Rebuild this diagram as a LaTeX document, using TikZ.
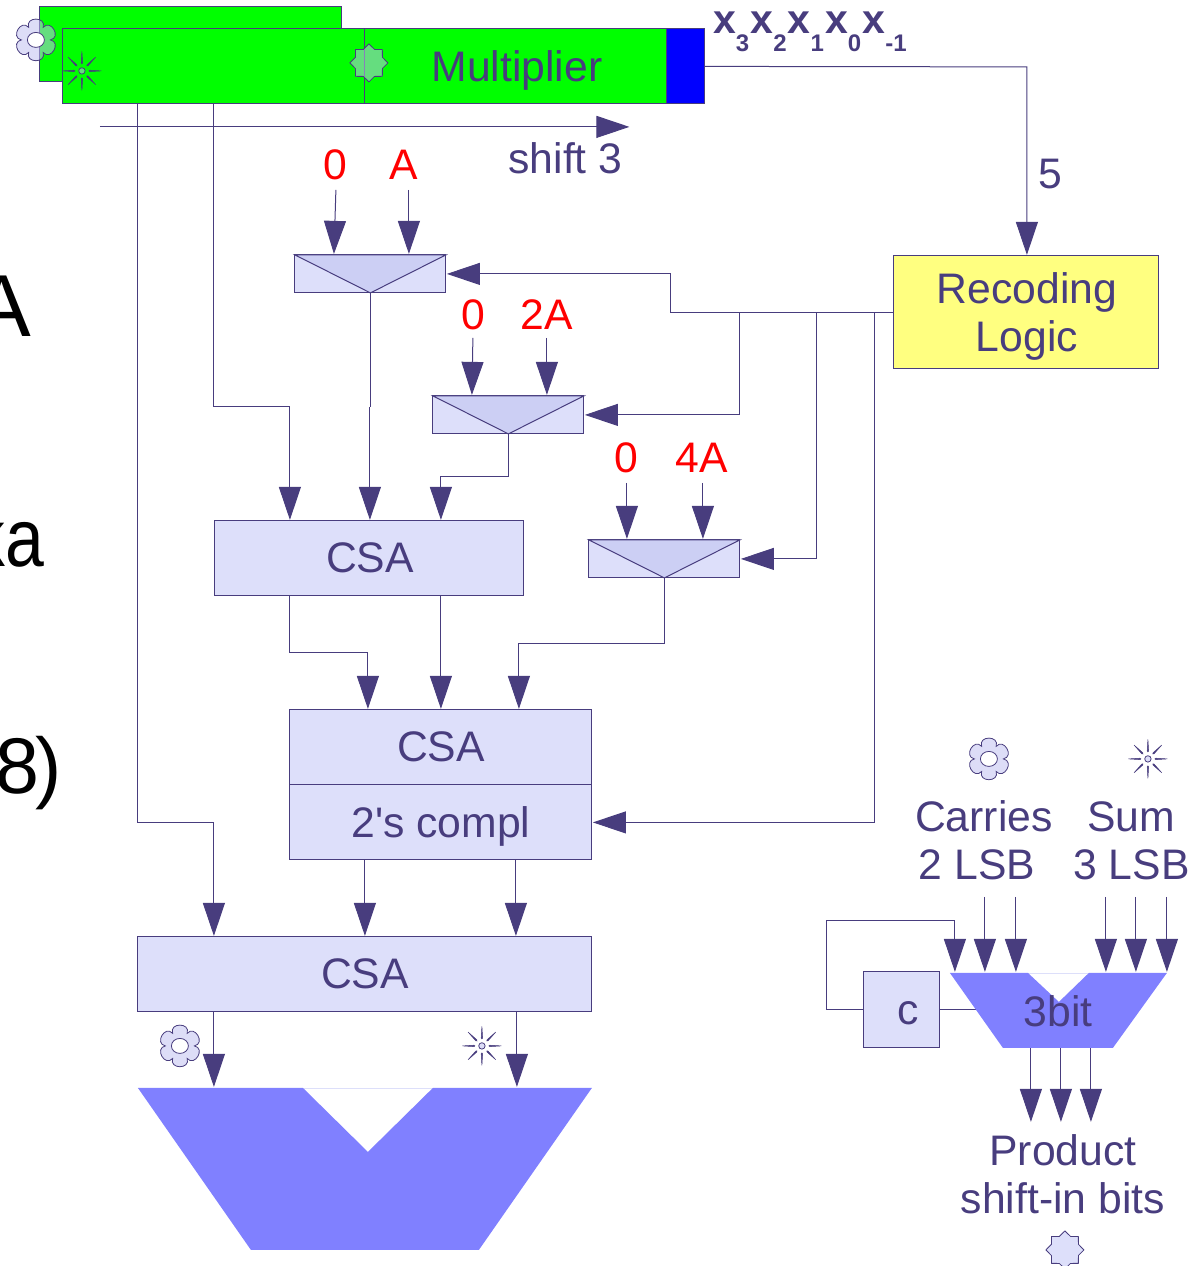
\documentclass[tikz,border=0pt]{standalone}
\usepackage{fontspec}
\setmainfont{Liberation Sans}
\newfontfamily\plainf{Liberation Sans}
\usetikzlibrary{arrows.meta,shapes.geometric}
\definecolor{ink}{HTML}{483D7E}
\definecolor{pale}{HTML}{DDDFFA}
\definecolor{palein}{HTML}{CCCFF4}
\definecolor{vfill}{HTML}{8080FF}
\definecolor{yel}{HTML}{FFFF80}
\definecolor{iconfill}{RGB}{191,191,240}
\newcommand{\bigsize}{\fontsize{42.7}{48}\selectfont}
\newcommand{\subx}[1]{\raisebox{-18pt}{\fontsize{24}{24}\selectfont #1}\kern1.2pt}
\tikzset{
  wire/.style={draw=ink,line width=1pt},
  arr/.style={wire,-{Triangle[length=33pt,width=22pt,fill=ink]},shorten >=1pt},
  boxed/.style={rectangle,draw=ink,line width=1pt,inner sep=0pt,outer sep=0pt,anchor=north west},
  csabox/.style={boxed,fill=pale,text=ink,font=\bigsize},
  green box/.style={boxed,fill=green},
  lab/.style={text=ink,font=\bigsize,align=center,inner sep=0pt},
  redlab/.style={text=red,font=\bigsize,inner sep=0pt},
  mux/.style={boxed,fill=pale,minimum width=151pt,minimum height=38pt},
  flower/.pic={
    \path[draw=ink,line width=.8pt,fill=iconfill,fill opacity=.53]
      (0:14.5) \foreach \a in {30,90,150,210,270,330}{
        .. controls ({\a-25}:26) and ({\a+25}:26) .. ({\a+30}:14.5)
      } -- cycle;
    \path[draw=ink,line width=.8pt,fill=white] (0,0) ellipse (8.5pt and 7.5pt);
  },
  sun/.pic={
    \foreach \a in {0,45,...,315}{
      \path[draw=ink,line width=.5pt,fill=ink]
        (\a:7) -- ({\a+5}:8) -- (\a:19.5) -- ({\a-5}:8) -- cycle;
    }
    \path[draw=ink,line width=.8pt,fill=iconfill,fill opacity=.53] (0,0) circle (3.2pt);
  },
  eightstar/.style={star,star points=8,star point ratio=1.3,minimum size=38pt,inner sep=0pt,
    draw=ink,line width=.8pt,fill=iconfill,fill opacity=.53},
}
\begin{document}
\begin{tikzpicture}[x=1pt,y=-1pt]
\useasboundingbox (0,0) rectangle (1199,1266);
\begin{scope}[shift={(-.1,-.1)}]

% clipped black text at the left edge
\node[anchor=base east,inner sep=0pt,font=\fontsize{88}{88}\selectfont] (leftA) at (31,336.5) {A};
\node[anchor=base east,inner sep=0pt,font=\fontsize{82}{82}\selectfont,xscale=.85,transform shape] (leftKa) at (44.5,567) {ka};
\node[anchor=base east,inner sep=0pt,font=\fontsize{79}{79}\selectfont] (leftE) at (62,793.5) {8\kern-4pt)};

% registers
\node[green box,minimum width=302pt,minimum height=75pt] (back) at (40,7) {};
\pic at (36,40) {flower};
\node[green box,minimum width=302pt,minimum height=75pt] (front) at (63,29) {};
\node[green box,minimum width=302pt,minimum height=75pt] (mul) at (365,29) {};
\node[boxed,fill=blue,minimum width=38pt,minimum height=75pt] (blue) at (667,29) {};
\node[lab] (multxt) at (517,71) {Multiplier};
\pic at (82,71) {sun};
\node[eightstar] (star1) at (369,63) {};
\node[anchor=base west,inner sep=0pt,text=ink,font=\fontsize{41}{41}\selectfont\bfseries] (xs) at (713,34)
  {x\subx{3}x\subx{2}x\subx{1}x\subx{0}x\subx{-1}};

% guides
\coordinate (xm1) at (138,0);
\coordinate (xm2) at (214,0);
\coordinate (shiftA) at (100,127);
\coordinate (shiftB) at (630.5,127);
\draw[arr] (shiftA) -- (shiftB);
\node[lab] (shifttxt) at (565.5,158) {shift 3};

% recoding
\node[csabox,fill=yel,minimum width=265pt,minimum height=113pt] (rec) at (894,256) {};
\node[lab] (rectxt) at (1027,317) {Recoding\\Logic};
\node[lab] (five) at (1050,174) {5};
\coordinate (bend0) at (1027,67);
\draw[arr] (blue.east) -- (bend0) -- (bend0 |- rec.north);

% muxes
\node[mux] (m1) at (295,255) {};
\node[mux] (m2) at (433,396) {};
\node[mux] (m3) at (589,540) {};
\foreach \m in {m1,m2,m3}{
  \path[draw=ink,line width=1pt,fill=palein] (\m.north west) -- (\m.north east) -- (\m.south) -- cycle;
}
\node[redlab] (z1) at (335,165) {0};
\node[redlab] (a1) at (403.5,165) {A};
\node[redlab] (z2) at (473,315) {0};
\node[redlab] (a2) at (546.5,315) {2A};
\node[redlab] (z3) at (626,458) {0};
\node[redlab] (a3) at (702,458) {4A};
\coordinate (z1s) at (336,190); \coordinate (a1s) at (409,190);
\coordinate (z2s) at (473,338); \coordinate (a2s) at (547,338);
\coordinate (z3s) at (627,483); \coordinate (a3s) at (703,483);
\draw[arr] (z1s) -- (334,255);
\draw[arr] (a1s) -- (a1s |- m1.north);
\draw[arr] (z2s) -- (472,396);
\draw[arr] (a2s) -- (a2s |- m2.north);
\draw[arr] (z3s) -- (z3s |- m3.north);
\draw[arr] (a3s) -- (a3s |- m3.north);

% CSA boxes
\node[csabox,minimum width=309pt,minimum height=75pt] (csa1) at (215,521) {};
\node[lab] (csa1t) at (370,558) {CSA};
\node[csabox,minimum width=302pt,minimum height=75pt] (csa2) at (290,710) {};
\node[lab] (csa2t) at (441,747) {CSA};
\node[csabox,minimum width=302pt,minimum height=75pt] (comp) at (290,785) {};
\node[lab] (compt) at (441,827) {\plainf 2's compl};
\node[csabox,minimum width=454pt,minimum height=75pt] (csa3) at (138,937) {};
\node[lab] (csa3t) at (365,974) {CSA};

% control lines from recoding logic
\coordinate (ctl) at (894,313);
\coordinate (c1) at (671,313);
\coordinate (c2) at (740,313);
\coordinate (c3) at (817,313);
\coordinate (c4) at (875,313);
\draw[wire] (rec.west |- ctl) -- (c1);
\draw[arr] (c1) |- (m1.east);
\draw[arr] (c2) |- (m2.east);
\draw[arr] (c3) |- (m3.east);
\draw[arr] (c4) |- (comp.east);

% data lines
\coordinate (y1) at (0,823);
\coordinate (bx) at (214,0);
\draw[arr] (front.south -| xm1) -- (xm1 |- y1) -- (bx |- y1) -- (bx |- csa3.north);
\coordinate (y2) at (0,407);
\coordinate (x290) at (290,0);
\draw[arr] (front.south -| xm2) -- (xm2 |- y2) -- (x290 |- y2) -- (x290 |- csa1.north);
\coordinate (x370) at (370,0);
\draw[wire] (m1.south) -- (m1.south |- y2);
\draw[arr] (x370 |- y2) -- (x370 |- csa1.north);
\coordinate (y3) at (0,477);
\coordinate (x441) at (441,0);
\draw[arr] (m2.south) -- (m2.south |- y3) -- (x441 |- y3) -- (x441 |- csa1.north);
\coordinate (y4) at (0,644);
\coordinate (x519) at (519,0);
\draw[arr] (m3.south) -- (m3.south |- y4) -- (x519 |- y4) -- (x519 |- csa2.north);
\coordinate (y5) at (0,653);
\coordinate (x368) at (368,0);
\draw[arr] (csa1.south -| x290) -- (x290 |- y5) -- (x368 |- y5) -- (x368 |- csa2.north);
\draw[arr] (csa1.south -| x441) -- (x441 |- csa2.north);
\coordinate (x365) at (365,0);
\coordinate (x516) at (516,0);
\draw[arr] (comp.south -| x365) -- (x365 |- csa3.north);
\draw[arr] (comp.south -| x516) -- (x516 |- csa3.north);

% big V
\node[inner sep=0pt,outer sep=0pt] (bigV) at (365,1088) {};
\draw[pale,line width=.8pt] (138,1088) -- (592,1088);
\path[fill=vfill] (138,1088) -- (303,1088) -- (368,1152) -- (433,1088) -- (592,1088) -- (479,1250) -- (251,1250) -- cycle;
\coordinate (x517) at (517,0);
\draw[arr] (csa3.south -| bx) -- (bx |- bigV);
\draw[arr] (csa3.south -| x517) -- (x517 |- bigV);
\pic at (180,1046) {flower};
\pic at (482,1046) {sun};

% right part
\pic at (989,759) {flower};
\pic at (1148,759) {sun};
\node[lab] (carr) at (984,816.5) {Carries};
\node[lab] (lsb2) at (977,865) {2 LSB};
\node[lab] (sumt) at (1131.5,816.5) {Sum};
\node[lab] (lsb3) at (1131.5,865) {3 LSB};

\node[csabox,minimum width=76pt,minimum height=76pt] (cbox) at (864,972) {};
\node[lab] (ctxt) at (908,1013) {c};
\coordinate (smalltop) at (0,973);
\coordinate (loopA) at (827,1010);
\coordinate (loopB) at (827,921);
\coordinate (x955) at (955,0);
\draw[wire] (cbox.east) -- (985,1010);
\draw[pale,line width=.8pt] (950,973) -- (1167,973);
\path[fill=vfill] (950,973) -- (1028,973) -- (1059,1002) -- (1089,973) -- (1167,973) -- (1113,1048) -- (1003,1048) -- cycle;
\node[lab] (bit3) at (1058.5,1011) {3bit};
\coordinate (smallbot) at (0,1048);
\draw[arr] (cbox.west) -- (loopA) -- (loopB) -- (x955 |- loopB) -- (x955 |- smalltop);
\foreach \x/\n in {985/a,1016/b,1106/c,1136/d,1167/e}{
  \coordinate (in\n) at (\x,897);
  \draw[arr] (in\n) -- (in\n |- smalltop);
}
\foreach \x/\n in {1031/a,1061/b,1091/c}{
  \coordinate (out\n) at (\x,1123);
  \draw[arr] (out\n |- smallbot) -- (out\n);
}
\node[lab] (prod) at (1063,1150) {Product};
\node[lab] (shin) at (1063,1198) {shift-in bits};
\node[eightstar,fill=pale,fill opacity=1] (star2) at (1065,1250) {};
\end{scope}
\end{tikzpicture}
\end{document}
